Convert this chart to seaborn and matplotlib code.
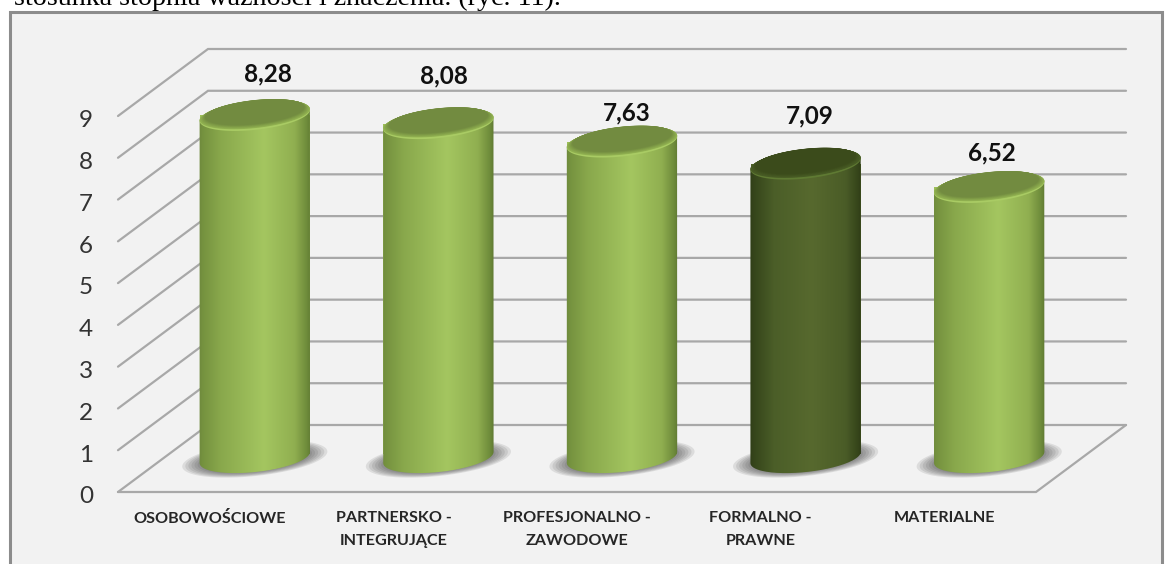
import numpy as np
import pandas as pd
import seaborn as sns
import matplotlib
matplotlib.use("Agg")
import matplotlib.pyplot as plt
from matplotlib.colors import LinearSegmentedColormap, to_rgb
from matplotlib.patches import PathPatch, Polygon, Rectangle
from matplotlib.path import Path
from matplotlib.transforms import ScaledTranslation

categories = ["OSOBOWOŚCIOWE", "PARTNERSKO -\nINTEGRUJĄCE", "PROFESJONALNO -\nZAWODOWE",
              "FORMALNO -\nPRAWNE", "MATERIALNE"]
values = [8.28, 8.08, 7.63, 7.09, 6.52]
value_labels = ["8,28", "8,08", "7,63", "7,09", "6,52"]
ticks = list(range(10))
highlight = "FORMALNO -\nPRAWNE"

W, H = 1170, 564
sns.set_theme(style="white")
plt.rcParams["font.family"] = ["Lato", "DejaVu Sans"]
fig = plt.figure(figsize=(W / 100, H / 100), dpi=100, facecolor="white")

def rect(l, r, top, bottom):
    return [l / W, 1 - bottom / H, (r - l) / W, (bottom - top) / H]

# outer frame
fig.add_artist(Rectangle((9.5 / W, -0.1), (1162 - 9.5) / W, 1 - 12 / H + 0.1, transform=fig.transFigure,
                         fc="#f2f2f2", ec="#8c8c8c", lw=2.2, zorder=-5))
fig.text(14 / W, 1 - 5 / H, "stosunka stopnia ważności i znaczenia. (ryc. 11).",
         family="Liberation Serif", fontsize=20.2, color="black", va="baseline")

# front plane axes: carries the ticks, walls and floor
ax = fig.add_axes(rect(118, 1036, 116, 492), facecolor="none")
ax.set_xlim(-0.5, 4.5)
ax.set_ylim(0, 9)
ax.set_xticks(range(len(categories)))
ax.set_xticklabels(categories, fontsize=11.6, fontweight="bold", color="#262626", linespacing=1.8, va="top")
ax.set_yticks(ticks)
ax.set_yticklabels([str(t) for t in ticks], fontsize=17.5, color="#333333")
ax.tick_params(axis="both", length=0)
ax.tick_params(axis="x", pad=13.5)
ax.tick_params(axis="y", pad=18)
for lab in ax.get_yticklabels():
    lab.set_transform(lab.get_transform() + ScaledTranslation(0, -2 / 72, fig.dpi_scale_trans))
sns.despine(ax=ax, left=True, bottom=True)

depth_x = 90 / (918 / 5)
depth_y = 67 / (376 / 9)
grid = "#a8a8a8"
for t in ticks:
    ax.plot([-0.5, -0.5 + depth_x, 4.5 + depth_x], [t, t + depth_y, t + depth_y],
            color=grid, lw=1.6, clip_on=False, solid_joinstyle="miter", zorder=1)
ax.plot([-0.5, 4.5, 4.5 + depth_x], [0, 0, depth_y], color=grid, lw=1.6, clip_on=False,
        solid_joinstyle="miter", zorder=1)

# bar axes: mid-depth plane, shifted back from the front plane
bx = fig.add_axes(rect(163, 1081, 454 - 40.9 * 9, 454 + 40.9), facecolor="none")
df = pd.DataFrame({"kategoria": categories, "wartosc": values})
base_light, base_dark = "#9dbf58", "#4e6128"
sns.barplot(data=df, x="kategoria", y="wartosc", hue="kategoria", legend=False, ax=bx, width=0.6,
            palette={c: (base_dark if c == highlight else base_light) for c in categories},
            linewidth=0, saturation=1)
bx.axis("off")

ppx = 5 / 918   # category units per pixel
ppy = 1 / 40.9  # value units per pixel

def ell(cx, cy, a, b, ang=6.2, n=80, t0=0, t1=2 * np.pi):
    t = np.linspace(t0, t1, n)
    th = np.radians(ang)
    ex = a * np.cos(t) * np.cos(th) - b * np.sin(t) * np.sin(th)
    ey = a * np.cos(t) * np.sin(th) + b * np.sin(t) * np.cos(th)
    return np.column_stack([cx + ex * ppx, cy + ey * ppy])

def cmap(cols):
    return LinearSegmentedColormap.from_list("c", cols)

light_body = cmap([(0, "#6b873c"), (.04, "#75923f"), (.2, "#89a84c"), (.58, "#a4c660"),
                   (.85, "#90af50"), (.96, "#6d8a3a"), (1, "#5b7530")])
dark_body = cmap([(0, "#2f3d17"), (.05, "#36461b"), (.22, "#4b5e28"), (.55, "#57692e"),
                  (.85, "#4a5c27"), (.96, "#35441a"), (1, "#2c3915")])
grad = np.linspace(0, 1, 256)[None, :]
a, b = 55.5, 14.5
base_y = -3.5 * ppy
offsets = [(13, 41), (6, 48), (5, 29), (4, 48), (3, 34)]

for i, (c, v, lab, off) in enumerate(zip(categories, values, value_labels, offsets)):
    dark = c == highlight
    # floor shadow
    for k in np.linspace(1, 0.45, 14):
        bx.add_patch(Polygon(ell(i, base_y - 1.5 * ppy, 73 * k, 17 * k), closed=True, fc="#404040",
                             ec="none", alpha=0.12, zorder=2))
    # body
    low = ell(i, base_y, a, b, t0=np.pi, t1=2 * np.pi)
    top_pts = ell(i, v, a, b, t0=0, t1=np.pi)
    outline = np.vstack([low, top_pts])
    clip = PathPatch(Path(np.vstack([outline, outline[:1]])), transform=bx.transData, fc="none", ec="none")
    bx.add_patch(clip)
    im = bx.imshow(grad, extent=(i - 0.31, i + 0.31, base_y - 20 * ppy, v + 20 * ppy), aspect="auto",
                   cmap=dark_body if dark else light_body, zorder=4, interpolation="bilinear")
    im.set_clip_path(clip)
    # cap: dark top fading to a bright lower rim
    c_rim = np.array(to_rgb("#5f7a33" if dark else "#a9cb64"))
    c0 = np.array(to_rgb("#4a5e26" if dark else "#93b452"))
    c1 = np.array(to_rgb("#3b4b1b" if dark else "#728b40"))
    bx.add_patch(Polygon(ell(i, v, a, b), closed=True, fc=c_rim, ec="none", zorder=5))
    for f in np.linspace(0, 1, 10):
        sc = 1 - 0.10 * f
        bx.add_patch(Polygon(ell(i, v + (0.8 + 2.4 * f) * ppy, a * sc, b * (0.93 - 0.10 * f)), closed=True,
                             fc=c0 + (c1 - c0) * f, ec="none", zorder=6))
    bx.annotate(lab, (i, v), xytext=off, textcoords="offset pixels", ha="center", va="center",
                fontsize=17.5, fontweight="bold", color="#111111", zorder=8, annotation_clip=False)
bx.set_xlim(-0.5, 4.5)
bx.set_ylim(-1, 9)

fig.savefig("out.png", dpi=100, facecolor="white")
